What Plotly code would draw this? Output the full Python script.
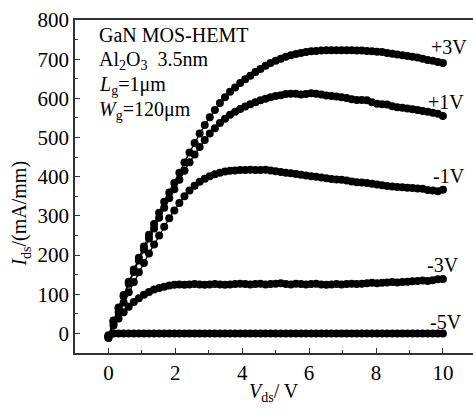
import plotly.graph_objects as go

# Drain voltage sweep (V), 67 points from 0 to 10 V
VDS = [round(i * 10 / 66, 3) for i in range(67)]

# Drain current (mA/mm) for each gate voltage
ID_P3 = [-8, 33, 66, 98, 132, 163, 193, 222, 252, 279, 308, 336, 360, 384, 410, 436, 462, 486,
         510, 532, 552, 570, 588, 603, 617, 628, 639, 649, 658, 667, 675, 683, 690, 696, 701, 706,
         710, 713, 716, 718, 720, 721, 722, 723, 723, 723, 723, 723, 723, 722, 722, 721, 720, 719,
         718, 716, 714, 712, 710, 708, 706, 704, 701, 698, 696, 693, 690]
ID_P1 = [-5, 32, 63, 95, 127, 157, 186, 214, 242, 268, 295, 321, 345, 368, 392, 415, 437, 457,
         476, 494, 510, 524, 537, 548, 558, 566, 573, 579, 585, 590, 595, 599, 603, 606, 608, 611,
         612, 612, 610, 611, 613, 612, 610, 607, 606, 605, 603, 601, 598, 596, 596, 595, 590, 586,
         585, 584, 580, 577, 576, 574, 572, 570, 568, 566, 563, 561, 555]
ID_M1 = [-10, 27, 53, 79, 105, 131, 156, 180, 204, 227, 250, 272, 294, 314, 333, 350, 365, 377,
         387, 395, 401, 406, 410, 413, 415, 416, 417, 417, 418, 417, 417, 418, 416, 414, 412, 410,
         409, 407, 405, 403, 401, 400, 398, 396, 394, 393, 392, 390, 388, 386, 385, 384, 382, 380,
         378, 376, 375, 374, 373, 372, 371, 370, 369, 366, 365, 363, 367]
ID_M3 = [-8, 20, 38, 54, 68, 80, 90, 99, 106, 112, 116, 119, 122, 124, 125, 124, 125, 126,
         125, 124, 125, 126, 125, 124, 125, 126, 127, 126, 125, 126, 127, 125, 126, 127, 128, 126,
         125, 127, 126, 125, 126, 127, 125, 124, 125, 126, 125, 126, 127, 126, 127, 128, 129, 128,
         129, 130, 131, 130, 131, 132, 133, 134, 135, 134, 136, 138, 139]
ID_M5 = [-12, 0, 0, 0, 0, 0, 0, 0, 0, 0, 0, 0, 0, 0, 0, 0, 0, 0,
         0, 0, 0, 0, 0, 0, 0, 0, 0, 0, 0, 0, 0, 0, 0, 0, 0, 0,
         0, 0, 0, 0, 0, 0, 0, 0, 0, 0, 0, 0, 0, 0, 0, 0, 0, 0,
         0, 0, 0, 0, 0, 0, 0, 0, 0, 0, 0, 0, 0]

CURVES = [ID_P3, ID_P1, ID_M1, ID_M3, ID_M5]
GATE_LABELS = ["+3V", "+1V", "-1V", "-3V", "-5V"]
LABEL_POS = [(10.18, 731), (10.09, 591), (10.18, 402), (10.0, 175), (10.09, 29)]

X_TICKS = [0, 2, 4, 6, 8, 10]
Y_TICKS = [0, 100, 200, 300, 400, 500, 600, 700, 800]

FONT = "Liberation Serif, Times New Roman, serif"

fig = go.Figure()
for ids in CURVES:
    fig.add_trace(go.Scatter(
        x=VDS, y=ids, mode="lines+markers",
        line=dict(color="black", width=1.3),
        marker=dict(color="black", size=8),
        showlegend=False, hoverinfo="skip",
    ))

for label, (lx, ly) in zip(GATE_LABELS, LABEL_POS):
    fig.add_annotation(x=lx, y=ly, xref="x", yref="y", text=label, showarrow=False,
                       font=dict(family=FONT, size=20, color="black"))

info_lines = [
    ("GaN MOS-HEMT", 0.955),
    ("Al<sub>2</sub>O<sub>3</sub>  3.5nm", 0.878),
    ("<i>L</i><sub>g</sub>=1μm", 0.803),
    ("<i>W</i><sub>g</sub>=120μm", 0.728),
]
for txt, py in info_lines:
    fig.add_annotation(x=0.055, y=py, xref="paper", yref="paper", text=txt, showarrow=False,
                       xanchor="left", yanchor="middle",
                       font=dict(family=FONT, size=20, color="black"))

fig.add_annotation(x=-0.137, y=0.42, xref="paper", yref="paper",
                   text="<i>I</i><sub>ds</sub>/(mA/mm)", textangle=-90, showarrow=False,
                   xanchor="center", yanchor="middle",
                   font=dict(family=FONT, size=20, color="black"))
fig.add_annotation(x=0.5, y=-0.12, xref="paper", yref="paper",
                   text="<i>V</i><sub>ds</sub>/ V", showarrow=False,
                   xanchor="center", yanchor="middle",
                   font=dict(family=FONT, size=20, color="black"))

axis_common = dict(
    showgrid=False, zeroline=False, showline=True, linecolor="#333", linewidth=1.5,
    ticks="inside", ticklen=5, tickwidth=1.2, tickcolor="#333",
    tickfont=dict(family=FONT, size=21, color="black"),
)
fig.update_xaxes(range=[-1, 10.9], tickvals=X_TICKS, mirror=True,
                 minor=dict(dtick=1, tick0=1, ticks="inside", ticklen=3, tickcolor="#333"),
                 **axis_common)
fig.update_yaxes(range=[-50, 800], tickvals=Y_TICKS,
                 minor=dict(dtick=50, tick0=50, ticks="inside", ticklen=3, tickcolor="#333"),
                 **axis_common)

fig.update_layout(
    width=473, height=412,
    margin=dict(l=75, r=0, t=20, b=59),
    plot_bgcolor="white", paper_bgcolor="white",
)

fig.write_html("out.html")
